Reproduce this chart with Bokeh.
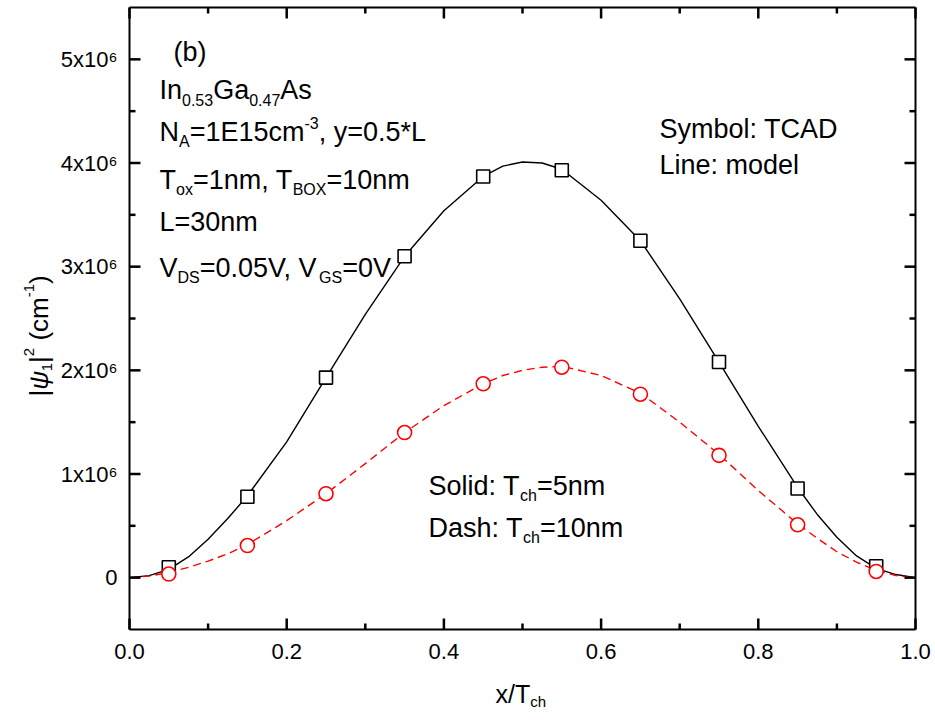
import numpy as np
from bokeh.plotting import figure
from bokeh.models import (Range1d, LinearAxis, SingleIntervalTicker, CustomJSTickFormatter,
                          NumeralTickFormatter, Label, ColumnDataSource)
from bokeh.embed import file_html
from bokeh.resources import INLINE

# ---------------- data ----------------
x_tcad = [0.05, 0.15, 0.25, 0.35, 0.45, 0.55, 0.65, 0.75, 0.85, 0.95]
psi_tch5_tcad = [0.10e6, 0.78e6, 1.93e6, 3.10e6, 3.87e6, 3.93e6, 3.25e6, 2.08e6, 0.86e6, 0.11e6]
psi_tch10_tcad = [0.035e6, 0.31e6, 0.81e6, 1.40e6, 1.87e6, 2.03e6, 1.77e6, 1.18e6, 0.51e6, 0.06e6]

x_model = [0.0, 0.025, 0.05, 0.075, 0.10, 0.125, 0.15, 0.20, 0.25, 0.30, 0.35, 0.40, 0.45,
           0.475, 0.50, 0.525, 0.55, 0.60, 0.65, 0.70, 0.75, 0.80, 0.85, 0.875, 0.90,
           0.925, 0.95, 0.975, 1.0]
psi_tch5_model = [0.0, 0.02e6, 0.08e6, 0.20e6, 0.37e6, 0.57e6, 0.79e6, 1.31e6, 1.93e6, 2.54e6,
                  3.10e6, 3.54e6, 3.87e6, 3.97e6, 4.01e6, 4.00e6, 3.94e6, 3.64e6, 3.25e6,
                  2.69e6, 2.08e6, 1.46e6, 0.87e6, 0.61e6, 0.39e6, 0.21e6, 0.09e6, 0.03e6, 0.0]
psi_tch10_model = [0.0, 0.015e6, 0.05e6, 0.10e6, 0.16e6, 0.23e6, 0.32e6, 0.55e6, 0.81e6, 1.10e6,
                   1.40e6, 1.66e6, 1.87e6, 1.95e6, 2.00e6, 2.03e6, 2.04e6, 1.95e6, 1.78e6,
                   1.50e6, 1.19e6, 0.84e6, 0.52e6, 0.38e6, 0.25e6, 0.15e6, 0.07e6, 0.02e6, 0.0]

# axis ticks
x_major_ticks = [0.0, 0.2, 0.4, 0.6, 0.8, 1.0]
x_minor_ticks = [0.1, 0.3, 0.5, 0.7, 0.9]
y_major_ticks = [0.0, 1e6, 2e6, 3e6, 4e6, 5e6]
y_minor_ticks = [0.5e6, 1.5e6, 2.5e6, 3.5e6, 4.5e6]

X_RANGE = (0.0, 1.0)
Y_RANGE = (-0.5e6, 5.5e6)

# ---------------- geometry: plot box inside a full-canvas frame ----------------
W, H = 935, 720
BOX_L, BOX_R, BOX_T, BOX_B = 129, 915, 7, 629
DX = (X_RANGE[1] - X_RANGE[0]) / (BOX_R - BOX_L)   # data units per pixel
DY = (Y_RANGE[1] - Y_RANGE[0]) / (BOX_B - BOX_T)

def px2x(px):
    return X_RANGE[0] + (px - BOX_L) * DX

def py2y(py):
    return Y_RANGE[1] - (py - BOX_T) * DY

p = figure(width=W, height=H,
           x_range=Range1d(px2x(0), px2x(W)), y_range=Range1d(py2y(H), py2y(0)),
           output_backend="svg", toolbar_location=None,
           x_axis_type=None, y_axis_type=None,
           min_border_left=0, min_border_right=0, min_border_top=0, min_border_bottom=0)
p.background_fill_color = "white"
p.border_fill_color = "white"
p.outline_line_color = None

FONT = "Liberation Sans"

def make_axis(side, loc, ticker, bounds, labels=None, standoff=12):
    ax = LinearAxis(ticker=ticker, fixed_location=loc, bounds=bounds)
    ax.axis_line_color = "black"
    ax.axis_line_width = 2
    ax.major_tick_in = 0
    ax.minor_tick_in = 0
    ax.major_tick_out = 0
    ax.minor_tick_out = 0
    if labels is not None:
        ax.formatter = labels
        ax.major_label_text_font = FONT
        ax.major_label_text_font_size = "22px"
        ax.major_label_text_color = "black"
        ax.major_label_standoff = standoff
    else:
        ax.formatter = CustomJSTickFormatter(code="return '';")
        ax.major_label_text_font_size = "1px"
        ax.major_label_standoff = 0
    p.add_layout(ax, side)
    return ax

x_fmt = NumeralTickFormatter(format="0.0")
y_fmt = CustomJSTickFormatter(
    code="if (Math.abs(tick) < 1) { return '0'; } return Math.round(tick/1e6) + 'x10\u2076';")

make_axis("below", Y_RANGE[0], SingleIntervalTicker(interval=0.2), X_RANGE, labels=x_fmt, standoff=14)
make_axis("above", Y_RANGE[1], SingleIntervalTicker(interval=0.2), X_RANGE)
make_axis("left", X_RANGE[0], SingleIntervalTicker(interval=1e6), Y_RANGE, labels=y_fmt, standoff=12)
make_axis("right", X_RANGE[1], SingleIntervalTicker(interval=1e6), Y_RANGE)

# inward tick marks on all four sides, drawn from the tick lists on the overlay level
MAJ, MIN = 11, 6
TICK_W = 2.5

def ticks_x(vals, length):
    n = len(vals)
    p.segment(x0=vals, y0=[Y_RANGE[0]] * n, x1=vals, y1=[Y_RANGE[0] + length * DY] * n,
              line_color="black", line_width=TICK_W, level="overlay")
    p.segment(x0=vals, y0=[Y_RANGE[1]] * n, x1=vals, y1=[Y_RANGE[1] - length * DY] * n,
              line_color="black", line_width=TICK_W, level="overlay")

def ticks_y(vals, length):
    n = len(vals)
    p.segment(x0=[X_RANGE[0]] * n, y0=vals, x1=[X_RANGE[0] + length * DX] * n, y1=vals,
              line_color="black", line_width=TICK_W, level="overlay")
    p.segment(x0=[X_RANGE[1]] * n, y0=vals, x1=[X_RANGE[1] - length * DX] * n, y1=vals,
              line_color="black", line_width=TICK_W, level="overlay")

ticks_x(x_major_ticks, MAJ)
ticks_x(x_minor_ticks, MIN)
ticks_y(y_major_ticks, MAJ)
ticks_y(y_minor_ticks, MIN)

# ---------------- glyphs ----------------
src_m = ColumnDataSource(dict(x=x_model, a=psi_tch5_model, b=psi_tch10_model))
src_t = ColumnDataSource(dict(x=x_tcad, a=psi_tch5_tcad, b=psi_tch10_tcad))

p.line("x", "a", source=src_m, line_color="black", line_width=1.4)
p.line("x", "b", source=src_m, line_color="#ff0000", line_width=1.4, line_dash="8 5")
p.scatter("x", "a", source=src_t, marker="square", size=13, line_color="black",
          line_width=1.6, fill_color="white")
p.scatter("x", "b", source=src_t, marker="circle", size=14, line_color="#ff0000",
          line_width=1.6, fill_color="white")

# ---------------- rich text helper ----------------
ADV = {' ': 278, '(': 333, ')': 333, '*': 389, ',': 278, '-': 333, '.': 278, '/': 278,
       ':': 278, '=': 584, '|': 260, 'ψ': 712,
       'A': 667, 'B': 667, 'C': 722, 'D': 722, 'E': 667, 'G': 778, 'I': 278, 'L': 556,
       'N': 722, 'O': 778, 'S': 667, 'T': 611, 'V': 667, 'X': 667,
       'a': 556, 'b': 556, 'c': 500, 'd': 556, 'e': 556, 'h': 556, 'i': 222, 'l': 222,
       'm': 833, 'n': 556, 'o': 556, 's': 500, 'x': 500, 'y': 500}
for d in "0123456789":
    ADV[d] = 556

def text_width(s, size):
    return sum(ADV.get(ch, 556) for ch in s) * size / 1000.0

def rich(px, py, segs, size=27, small=16, rotate=False, sub=10, sup=9):
    for txt, kind in segs:
        fs = size if kind in ("n", "i", "gap") else small
        if kind != "gap":
            shift = {"n": 0, "i": 0, "sub": sub, "sup": -sup}[kind]
            if rotate:
                ax_, ay_ = px + shift, py
            else:
                ax_, ay_ = px, py + shift
            lab = Label(x=px2x(ax_), y=py2y(ay_), text=txt, text_font=FONT,
                        text_font_size=f"{fs}px", text_color="black", text_align="left",
                        text_baseline="alphabetic", angle=(np.pi / 2 if rotate else 0.0),
                        text_font_style=("italic" if kind == "i" else "normal"))
            p.add_layout(lab)
        w = text_width(txt, fs)
        if rotate:
            py -= w
        else:
            px += w

# left annotation block
rich(173, 51, [("(b)", "n")])
rich(159, 89, [("In", "n"), ("0.53", "sub"), ("Ga", "n"), ("0.47", "sub"), ("As", "n")])
rich(159, 131, [("N", "n"), ("A", "sub"), ("=1E15cm", "n"), ("-3", "sup"), (", y=0.5*L", "n")])
rich(159, 179, [("T", "n"), ("ox", "sub"), ("=1nm, T", "n"), ("BOX", "sub"), ("=10nm", "n")])
rich(159, 221, [("L=30nm", "n")])
rich(159, 267, [("V", "n"), ("DS", "sub"), ("=0.05V, V", "n"), ("GS", "sub"), ("=0V", "n")])

# right annotation block
rich(659, 128, [("Symbol: TCAD", "n")])
rich(659, 164, [("Line: model", "n")])

# line-style note
rich(428, 485, [("Solid: T", "n"), ("ch", "sub"), ("=5nm", "n")])
rich(428, 527, [("Dash: T", "n"), ("ch", "sub"), ("=10nm", "n")])

# axis titles
rich(495, 693, [("x/T", "n"), ("ch", "sub")], size=25, small=15, sub=8)
rich(38, 396, [("|", "n"), ("ψ", "i"), ("1", "sub"), ("|", "n"), ("2", "sup"),
               (" ", "gap"), ("(cm", "n"), ("-1", "sup"), (")", "n")],
     size=26, small=15, rotate=True, sub=8, sup=10)

open("out.html", "w").write(file_html(p, INLINE))
